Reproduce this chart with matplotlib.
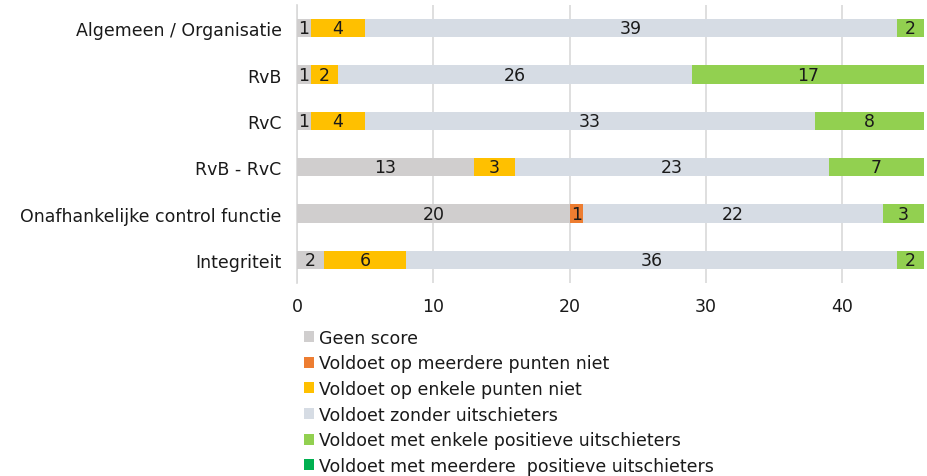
import matplotlib.pyplot as plt
from matplotlib.patches import Patch

# Categories (top to bottom)
categories = [
    "Algemeen / Organisatie",
    "RvB",
    "RvC",
    "RvB - RvC",
    "Onafhankelijke control functie",
    "Integriteit",
]

# Series values per category
geen_score = [1, 1, 1, 13, 20, 2]
meerdere_niet = [0, 0, 0, 0, 1, 0]
enkele_niet = [4, 2, 4, 3, 0, 6]
zonder_uitschieters = [39, 26, 33, 23, 22, 36]
enkele_positief = [2, 17, 8, 7, 3, 2]
meerdere_positief = [0, 0, 0, 0, 0, 0]

series_names = [
    "Geen score",
    "Voldoet op meerdere punten niet",
    "Voldoet op enkele punten niet",
    "Voldoet zonder uitschieters",
    "Voldoet met enkele positieve uitschieters",
    "Voldoet met meerdere  positieve uitschieters",
]
series_values = [geen_score, meerdere_niet, enkele_niet,
                 zonder_uitschieters, enkele_positief, meerdere_positief]
colors = ["#D0CECE", "#ED7D31", "#FFC000", "#D6DCE4", "#92D050", "#00B050"]

plt.rcParams["font.family"] = ["DejaVu Sans"]

fig = plt.figure(figsize=(9.27, 4.77), dpi=100)
ax = fig.add_axes([297 / 927, 1 - 284 / 477, 627 / 927, 278 / 477])

y_pos = list(range(len(categories)))
left = [0] * len(categories)
for name, values, color in zip(series_names, series_values, colors):
    bars = ax.barh(y_pos, values, left=left, height=0.4, color=color,
                   label=name, zorder=3)
    labels = [str(v) if v > 0 else "" for v in values]
    ax.bar_label(bars, labels=labels, label_type="center", fontsize=12.5,
                 color="#1a1a1a")
    left = [a + b for a, b in zip(left, values)]

ax.set_yticks(y_pos)
ax.set_yticklabels(categories, fontsize=12.5, color="#1a1a1a")
ax.set_ylim(5.5, -0.5)
ax.set_xlim(0, 46)
ax.set_xticks([0, 10, 20, 30, 40])
ax.tick_params(axis="x", labelsize=12.5, length=0, pad=10, labelcolor="#1a1a1a")
ax.tick_params(axis="y", length=0, pad=11)
ax.grid(axis="x", color="#D9D9D9", linewidth=1.2, zorder=0)
for side in ["top", "right", "bottom"]:
    ax.spines[side].set_visible(False)
ax.spines["left"].set_color("#D9D9D9")
ax.spines["left"].set_linewidth(1.2)

handles = [Patch(facecolor=c, label=n) for n, c in zip(series_names, colors)]
fig.legend(handles=handles, loc="upper left",
           bbox_to_anchor=(295 / 927, 1 - 321 / 477), frameon=False,
           fontsize=12.5, handlelength=0.6, handleheight=0.6,
           handletextpad=0.3, labelspacing=0.44, borderpad=0,
           labelcolor="#1a1a1a")

fig.savefig("out.png", dpi=100)
